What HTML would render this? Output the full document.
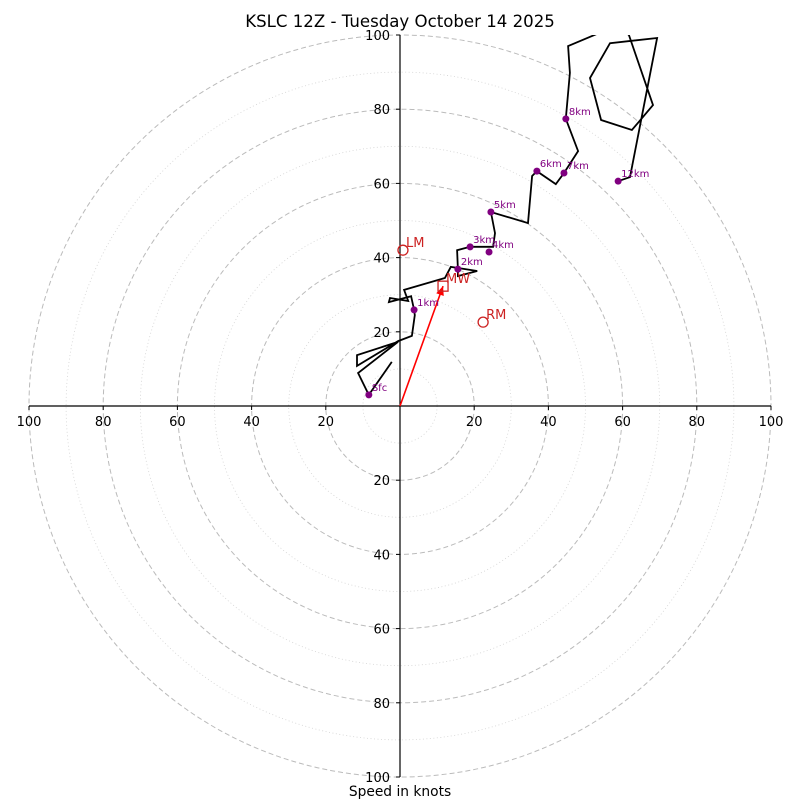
<!DOCTYPE html>
<html><head><meta charset="utf-8"><style>
html,body{margin:0;background:#fff;overflow:hidden;width:800px;height:800px;}
svg{display:block;font-family:"DejaVu Sans","Liberation Sans",sans-serif;}
</style></head><body>
<svg id="c" width="800" height="800" viewBox="0 0 800 800">
<defs><clipPath id="ax"><rect x="29" y="35" width="742" height="742"/></clipPath></defs>
<text x="400" y="27" text-anchor="middle" font-size="16.6">KSLC 12Z - Tuesday October 14 2025</text>
<g id="grid"></g><g id="axes"></g><g id="plot" clip-path="url(#ax)"></g>
<text x="400" y="796" text-anchor="middle" font-size="13.8">Speed in knots</text>
</svg>
<script>
const traceU=[-2.2,-8.4,-11.3,-0.5,-11.6,-11.6,-0.5,3.2,4.0,3.8,3.0,-3.0,-2.7,2.2,1.1,12.1,13.7,20.8,15.6,15.6,15.4,18.9,25.1,25.6,24.5,34.5,35.6,36.9,42.0,44.2,48.0,44.7,45.8,45.3,53.1,59.3,61.7,68.2,62.5,54.2,51.2,56.6,69.3,62.0,58.8];
const traceV=[11.9,3.0,8.9,17.3,13.7,10.8,17.5,18.9,24.5,25.9,29.6,28.0,29.1,28.3,31.3,34.5,37.5,36.4,35.0,36.9,42.0,42.9,42.9,46.6,52.3,49.3,62.0,63.3,59.8,62.8,68.7,77.4,89.8,97.0,100.3,101.9,100,81.1,74.4,77.1,88.4,97.8,99.2,61.7,60.6];
const hgtLabels=["Sfc","1km","2km","3km","4km","5km","6km","7km","8km","12km"];
const hgtU=[-8.4,3.8,15.6,18.9,24.0,24.5,36.9,44.2,44.7,58.8];
const hgtV=[3.0,25.9,36.9,42.9,41.5,52.3,63.3,62.8,77.4,60.6];
const motionLabels=["LM","RM","MW"];
const motionU=[0.8,22.4,11.6];
const motionV=[42.0,22.6,32.3];
const ringVals=[10,20,30,40,50,60,70,80,90,100];
const tickVals=[20,40,60,80,100];

const CX=400,CY=406,S=3.71;
const X=u=>CX+u*S, Y=v=>CY-v*S;
const NS="http://www.w3.org/2000/svg";
function mk(t,a,p){const e=document.createElementNS(NS,t);for(const k in a)e.setAttribute(k,a[k]);p.appendChild(e);return e;}
const grid=document.getElementById('grid'),axes=document.getElementById('axes'),plot=document.getElementById('plot');
ringVals.forEach(r=>{
  const dashed=r%20===0;
  const c=mk('circle',{cx:CX,cy:CY,r:r*S,fill:'none',stroke:dashed?'#bbbbbb':'#d3d3d3','stroke-width':dashed?1:0.8,'stroke-dasharray':dashed?'5,3':'1,2.5'},grid);
  
  
});
let e=mk('line',{x1:29,y1:CY,x2:771,y2:CY,stroke:'#000','stroke-width':1.2},axes);

e=mk('line',{x1:CX,y1:35,x2:CX,y2:777,stroke:'#000','stroke-width':1.2},axes);

[-1,1].forEach(s=>tickVals.forEach(t=>{
  mk('line',{x1:X(s*t),y1:CY,x2:X(s*t),y2:CY+4,stroke:'#000'},axes);
  const tx=mk('text',{x:X(s*t),y:CY+20,'text-anchor':'middle','font-size':13},axes);
  tx.textContent=t;
  
  
  mk('line',{x1:CX-4,y1:Y(s*t),x2:CX,y2:Y(s*t),stroke:'#000'},axes);
  const ty=mk('text',{x:CX-10,y:Y(s*t)+5,'text-anchor':'end','font-size':13},axes);
  ty.textContent=t;
  
  
}));
const pts=traceU.map((u,i)=>X(u).toFixed(1)+','+Y(traceV[i]).toFixed(1)).join(' ');
e=mk('polyline',{points:pts,fill:'none',stroke:'#000','stroke-width':1.8,'stroke-linejoin':'miter'},plot);

const mx=X(motionU[2]),my=Y(motionV[2]);
e=mk('line',{x1:CX,y1:CY,x2:mx,y2:my,stroke:'#ff0000','stroke-width':1.6},plot);

const ang=Math.atan2(my-CY,mx-CX);
const ah=[[mx,my],[mx-9*Math.cos(ang)+4*Math.sin(ang),my-9*Math.sin(ang)-4*Math.cos(ang)],[mx-9*Math.cos(ang)-4*Math.sin(ang),my-9*Math.sin(ang)+4*Math.cos(ang)]];
e=mk('polygon',{points:ah.map(p=>p.join(',')).join(' '),fill:'#ff0000'},plot);

motionLabels.forEach((l,i)=>{
  const x=X(motionU[i]),y=Y(motionV[i]);
  let m;
  if(l==='MW') m=mk('rect',{x:x-5,y:y-5,width:10,height:10,fill:'none',stroke:'#cc2222','stroke-width':1.3},plot);
  else m=mk('circle',{cx:x,cy:y,r:5,fill:'none',stroke:'#cc2222','stroke-width':1.3},plot);
  
  
  const t=mk('text',{x:x+3,y:y-3,'font-size':13,fill:'#cc2222'},plot);
  t.textContent=l;
  
  
});
hgtLabels.forEach((l,i)=>{
  const x=X(hgtU[i]),y=Y(hgtV[i]);
  const d=mk('circle',{cx:x,cy:y,r:3.5,fill:'#800080'},plot);
  
  
  const t=mk('text',{x:x+3,y:y-4,'font-size':10,fill:'#800080'},plot);
  t.textContent=l;
  
  
});
</script>
</body></html>
